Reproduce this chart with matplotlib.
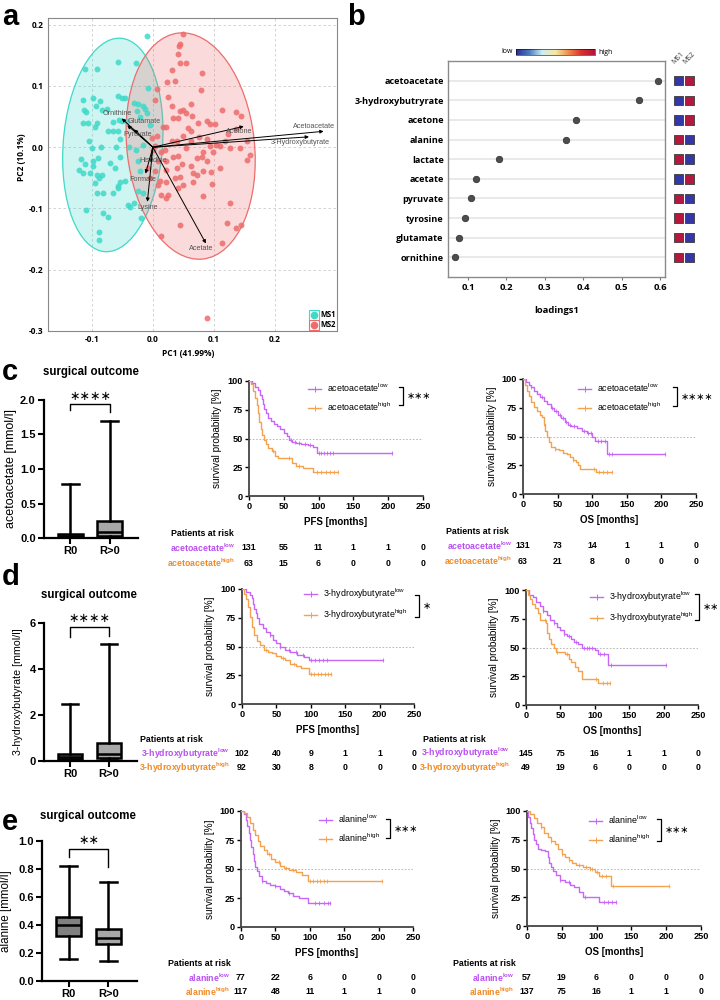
import numpy as np
import matplotlib
matplotlib.use('Agg')
import matplotlib.pyplot as plt
from matplotlib.patches import Ellipse
from matplotlib.lines import Line2D
from matplotlib.colors import LinearSegmentedColormap, ListedColormap, Normalize
from matplotlib.legend_handler import HandlerTuple
import matplotlib.cm as cm
import matplotlib.transforms as mtransforms

plt.rcParams['font.family'] = ['Liberation Sans', 'DejaVu Sans']
plt.rcParams['mathtext.fontset'] = 'custom'
plt.rcParams['mathtext.rm'] = 'Liberation Sans'
plt.rcParams['mathtext.bf'] = 'Liberation Sans:bold'
plt.rcParams['mathtext.it'] = 'Liberation Sans:italic'

# ---------------- panel a : PCA scores ----------------
ms1_x = [-0.111, -0.091, -0.057, -0.010, -0.028, -0.114, -0.098, -0.087, -0.113, -0.110,
         -0.093, -0.084, -0.115, -0.107, -0.091, -0.095, -0.073, -0.066, -0.057, -0.051,
         -0.046, -0.031, -0.024, -0.016, -0.026, -0.013, -0.021, -0.056, -0.065, -0.051,
         -0.105, -0.100, -0.085, -0.060, -0.054, -0.039, -0.027, -0.016, -0.118, -0.111,
         -0.098, -0.090, -0.070, -0.062, -0.054, -0.121, -0.115, -0.103, -0.098, -0.091,
         -0.084, -0.095, -0.088, -0.054, -0.046, -0.058, -0.065, -0.057, -0.091, -0.082,
         -0.109, -0.081, -0.073, -0.088, -0.089, -0.040, -0.031, -0.019, -0.024, -0.016,
         -0.024, -0.008, -0.076, -0.058, -0.042, -0.038, -0.010, -0.005, -0.021]
ms1_y = [0.127, 0.128, 0.139, 0.182, 0.137, 0.077, 0.081, 0.075, 0.060, 0.058,
         0.067, 0.060, 0.039, 0.039, 0.040, 0.033, 0.027, 0.026, 0.084, 0.080,
         0.081, 0.073, 0.070, 0.067, 0.059, 0.063, 0.050, 0.045, 0.041, 0.043,
         0.011, -0.001, 0.000, 0.000, 0.013, 0.000, -0.004, 0.004, -0.019, -0.027,
         -0.023, -0.017, -0.025, -0.034, -0.016, -0.037, -0.042, -0.042, -0.031, -0.045,
         -0.045, -0.058, -0.050, -0.056, -0.055, -0.064, -0.075, -0.067, -0.074, -0.075,
         -0.103, -0.108, -0.114, -0.138, -0.151, -0.095, -0.091, -0.116, -0.072, -0.075,
         -0.022, 0.096, 0.062, 0.026, 0.043, -0.097, 0.056, 0.037, -0.039]
ms2_x = [0.049, 0.044, 0.043, 0.041, 0.045, 0.054, 0.081, 0.032, 0.023, 0.036,
         0.079, 0.006, 0.003, 0.025, 0.031, 0.054, 0.063, 0.044, 0.050, 0.033,
         0.041, 0.017, 0.022, 0.057, 0.063, 0.074, 0.088, 0.093, 0.102, 0.113,
         0.137, 0.144, 0.137, 0.123, 0.154, 0.159, 0.155, 0.126, 0.118, 0.103,
         0.093, 0.088, 0.076, 0.063, 0.050, 0.039, 0.031, 0.020, 0.006, 0.003,
         0.013, 0.022, 0.033, 0.041, 0.047, 0.039, 0.022, 0.044, 0.036, 0.041,
         0.022, 0.011, 0.003, 0.009, 0.066, 0.072, 0.082, 0.096, 0.110, 0.097,
         0.082, 0.080, 0.072, 0.063, 0.082, 0.066, 0.050, 0.025, 0.014, 0.009,
         0.044, 0.122, 0.137, 0.144, 0.114, 0.126, 0.055, 0.110, 0.143, -0.002,
         0.001, -0.008, -0.005, 0.064, 0.088, 0.098, 0.088, 0.014, 0.021]
ms2_y = [0.185, 0.169, 0.166, 0.152, 0.138, 0.138, 0.122, 0.126, 0.107, 0.108,
         0.093, 0.095, 0.077, 0.082, 0.068, 0.056, 0.070, 0.059, 0.060, 0.048,
         0.048, 0.033, 0.033, 0.031, 0.026, 0.040, 0.043, 0.038, 0.038, 0.060,
         0.058, 0.051, 0.029, 0.021, 0.011, -0.012, -0.021, -0.001, 0.010, 0.004,
         0.002, 0.013, 0.016, 0.010, 0.018, 0.010, 0.010, -0.004, 0.018, 0.002,
         -0.008, -0.023, -0.016, -0.015, -0.028, -0.034, -0.037, -0.048, -0.050, -0.067,
         -0.056, -0.055, -0.039, -0.023, -0.042, -0.045, -0.038, -0.041, -0.034, -0.060,
         -0.007, -0.016, -0.018, -0.031, -0.079, -0.056, -0.061, -0.078, -0.078, -0.061,
         -0.127, -0.124, -0.132, -0.127, -0.156, -0.091, -0.001, 0.002, -0.001, 0.015,
         -0.004, -0.034, -0.050, 0.051, -0.023, -0.007, -0.279, -0.145, -0.083]

arrow_names = ['Ornithine', 'Glutamate', 'Pyruvate', 'Acetone', 'Acetoacetate',
               '3-Hydroxybutyrate', 'Histidine', 'Formate', 'Lysine', 'Acetate']
arrow_x = [-0.051, -0.042, -0.031, 0.149, 0.280, 0.256, -0.004, -0.012, -0.009, 0.087]
arrow_y = [0.047, 0.036, 0.029, 0.034, 0.026, 0.017, -0.025, -0.043, -0.089, -0.157]

# ---------------- panel b : loadings ----------------
metabolites = ['acetoacetate', '3-hydroxybutryrate', 'acetone', 'alanine', 'lactate',
               'acetate', 'pyruvate', 'tyrosine', 'glutamate', 'ornithine']
loadings1 = [0.595, 0.545, 0.380, 0.355, 0.182, 0.122, 0.108, 0.093, 0.077, 0.067]
ms1_level = [0, 0, 0, 1, 1, 0, 1, 1, 1, 1]
ms2_level = [1, 1, 1, 0, 0, 1, 0, 0, 0, 0]

# ---------------- box plots (min, q1, median, q3, max) ----------------
groups = ['R0', 'R>0']
c_box = [[0.0, 0.015, 0.035, 0.065, 0.78], [0.0, 0.03, 0.08, 0.25, 1.70]]
d_box = [[0.0, 0.08, 0.18, 0.32, 2.50], [0.03, 0.13, 0.30, 0.77, 5.10]]
e_box = [[0.16, 0.32, 0.40, 0.46, 0.82], [0.14, 0.265, 0.31, 0.375, 0.71]]

# ---------------- Kaplan-Meier curves (event times, survival %) ----------------
c_pfs_low_t = [0, 5, 9, 13, 16, 18, 20, 22, 25, 28, 32, 36, 40, 45, 50, 55, 58, 62, 68, 75, 85, 92, 97]
c_pfs_low_s = [100, 98, 95, 92, 88, 84, 80, 76, 72, 68, 65, 63, 61, 58, 55, 52, 49, 47, 46, 45, 44, 43, 37.5]
c_pfs_low_cens = [60, 66, 72, 80, 88, 100, 104, 108, 112, 116, 120, 205]
c_pfs_high_t = [0, 3, 6, 9, 11, 13, 15, 17, 19, 21, 24, 28, 33, 38, 42, 62, 67, 78, 92]
c_pfs_high_s = [100, 97, 91, 85, 79, 72, 64, 58, 53, 49, 45, 42, 39, 35, 33, 29, 26, 24, 21]
c_pfs_high_cens = [35, 58, 72, 98, 104, 110, 116, 122, 128]

c_os_low_t = [0, 4, 8, 12, 16, 20, 25, 30, 35, 40, 45, 50, 55, 60, 65, 70, 78, 85, 92, 100, 104, 121]
c_os_low_s = [100, 97, 95, 93, 90, 87, 84, 81, 78, 75, 72, 69, 66, 63, 60, 59, 57, 55, 53, 50, 46, 34.5]
c_os_low_cens = [12, 28, 42, 48, 54, 58, 62, 68, 74, 88, 94, 98, 108, 112, 118, 124, 128, 205]
c_os_high_t = [0, 3, 6, 9, 12, 16, 20, 24, 28, 30, 32, 35, 38, 41, 46, 52, 58, 63, 68, 72, 76, 80, 83, 105]
c_os_high_s = [100, 95, 90, 85, 80, 76, 72, 69, 67, 61, 55, 50, 45, 41, 39, 38, 36, 35, 32, 30, 28, 25, 22, 19]
c_os_high_cens = [30, 46, 72, 102, 110, 116, 122, 128]

d_pfs_low_t = [0, 6, 11, 14, 16, 18, 20, 22, 25, 30, 35, 40, 45, 50, 55, 62, 70, 80, 90, 98]
d_pfs_low_s = [100, 97, 95, 92, 87, 83, 79, 75, 70, 66, 63, 60, 56, 53, 50, 47, 45, 43, 41, 38]
d_pfs_low_cens = [40, 55, 68, 78, 88, 100, 106, 112, 118, 124, 205]
d_pfs_high_t = [0, 3, 6, 9, 12, 15, 18, 22, 26, 32, 38, 44, 50, 56, 62, 70, 78, 86, 97]
d_pfs_high_s = [100, 96, 91, 84, 76, 67, 60, 55, 51, 47, 45, 44, 42, 40, 38, 35, 33, 31, 26]
d_pfs_high_cens = [35, 60, 75, 100, 105, 110, 115, 120, 125, 129]

d_os_low_t = [0, 5, 10, 15, 20, 25, 30, 35, 40, 45, 50, 55, 60, 65, 70, 75, 82, 100, 104, 119]
d_os_low_s = [100, 96, 94, 90, 86, 82, 78, 74, 71, 68, 65, 62, 60, 57, 55, 53, 50, 48, 44.5, 35]
d_os_low_cens = [25, 40, 55, 62, 72, 84, 88, 92, 96, 108, 114, 124, 204]
d_os_high_t = [0, 3, 6, 9, 13, 17, 21, 29, 31, 34, 37, 40, 44, 56, 62, 66, 71, 76, 81, 104]
d_os_high_s = [100, 96, 92, 88, 84, 80, 74, 71, 63, 57, 53, 50, 46, 44, 40, 37, 33, 30, 23, 19]
d_os_high_cens = [28, 45, 60, 102, 112, 118, 122]

e_pfs_low_t = [0, 4, 7, 9, 11, 13, 15, 17, 19, 21, 23, 26, 30, 36, 42, 50, 56, 62, 68, 75, 84, 98]
e_pfs_low_s = [100, 97, 92, 87, 81, 75, 69, 63, 57, 52, 48, 44, 40, 38, 36, 35, 33, 31, 29, 27, 25, 20.5]
e_pfs_low_cens = [30, 50, 70, 108, 114, 120, 126, 129]
e_pfs_high_t = [0, 5, 9, 13, 17, 20, 24, 28, 33, 38, 44, 50, 56, 62, 70, 80, 88, 97]
e_pfs_high_s = [100, 98, 95, 90, 84, 79, 74, 70, 66, 63, 59, 56, 53, 51, 49, 47, 45, 39.5]
e_pfs_high_cens = [40, 55, 65, 75, 100, 105, 110, 115, 120, 125, 205]

e_os_low_t = [0, 2, 4, 6, 8, 10, 13, 16, 20, 26, 30, 32, 35, 38, 42, 47, 55, 62, 68, 74, 80, 104]
e_os_low_s = [100, 95, 90, 85, 80, 75, 71, 67, 66, 65, 60, 55, 51, 48, 44, 40, 38, 36, 34, 30, 25, 20.5]
e_os_low_cens = [48, 60, 84, 110, 116, 122, 128]
e_os_high_t = [0, 5, 10, 15, 20, 25, 30, 35, 40, 45, 50, 55, 60, 65, 70, 80, 90, 98, 103, 120]
e_os_high_s = [100, 97, 94, 90, 86, 81, 77, 74, 71, 67, 63, 60, 57, 55, 53, 51, 50, 47, 43.5, 34.5]
e_os_high_cens = [20, 35, 50, 60, 75, 85, 90, 94, 100, 108, 114, 124, 204]

# patients at risk at 0, 50, 100, 150, 200, 250 months
risk_times = [0, 50, 100, 150, 200, 250]
c_pfs_risk = [[131, 55, 11, 1, 1, 0], [63, 15, 6, 0, 0, 0]]
c_os_risk = [[131, 73, 14, 1, 1, 0], [63, 21, 8, 0, 0, 0]]
d_pfs_risk = [[102, 40, 9, 1, 1, 0], [92, 30, 8, 0, 0, 0]]
d_os_risk = [[145, 75, 16, 1, 1, 0], [49, 19, 6, 0, 0, 0]]
e_pfs_risk = [[77, 22, 6, 0, 0, 0], [117, 48, 11, 1, 1, 0]]
e_os_risk = [[57, 19, 6, 0, 0, 0], [137, 75, 16, 1, 1, 0]]

PURPLE = '#C766F7'
ORANGE = '#F5A24F'
PURPLE_T = '#B94EF0'
ORANGE_T = '#F08A26'

fig = plt.figure(figsize=(7.2, 10), dpi=100)


def px_axes(left, top, right, bottom):
    return fig.add_axes([left / 720, 1 - bottom / 1000, (right - left) / 720, (bottom - top) / 1000])


def fx(x):
    return x / 720


def fy(y):
    return 1 - y / 1000


# panel letters
for letter, x, y in [('a', 2, 17), ('b', 347, 17), ('c', 2, 372), ('d', 2, 577), ('e', 2, 822)]:
    fig.text(fx(x), fy(y), letter, fontsize=21, fontweight='bold', va='center', ha='left')

# ======================= a =======================
TEAL = '#3FD9C8'
SALMON = '#EE6C6C'
ax = px_axes(48, 18, 337, 331)


def ellipse_of(xs, ys, k=2.45):
    xs = np.asarray(xs)
    ys = np.asarray(ys)
    cov = np.cov(xs, ys)
    vals, vecs = np.linalg.eigh(cov)
    order = vals.argsort()[::-1]
    vals, vecs = vals[order], vecs[:, order]
    ang = np.degrees(np.arctan2(vecs[1, 0], vecs[0, 0]))
    return (xs.mean(), ys.mean()), 2 * k * np.sqrt(vals[0]), 2 * k * np.sqrt(vals[1]), ang


for xs, ys, col in [(ms1_x, ms1_y, TEAL), (ms2_x, ms2_y, SALMON)]:
    cen, w, h, ang = ellipse_of(xs, ys)
    ax.add_patch(Ellipse(cen, w, h, angle=ang, facecolor=col, alpha=0.25, edgecolor='none', zorder=1))
    ax.add_patch(Ellipse(cen, w, h, angle=ang, fill=False, edgecolor=col, lw=0.9, zorder=1))
ax.scatter(ms1_x, ms1_y, s=18, color=TEAL, alpha=0.85, lw=0, zorder=2)
ax.scatter(ms2_x, ms2_y, s=18, color=SALMON, alpha=0.85, lw=0, zorder=2)

label_off = [(-3, 3.4), (12, 2.4), (3, -3.6), (-3, -3.8), (-7, 3.2), (-6, -4),
             (2, 1.5), (-2, -4.4), (0, -3.8), (-3.5, -4)]
for name, x, y, off in zip(arrow_names, arrow_x, arrow_y, label_off):
    ax.annotate('', xy=(x, y), xytext=(0, 0),
                arrowprops=dict(arrowstyle='-|>', color='black', lw=0.7, mutation_scale=5,
                                shrinkA=0, shrinkB=0), zorder=3)
    ax.annotate(name, xy=(x, y), xytext=off, textcoords='offset points', ha='center', va='center',
                fontsize=5.2, color='#555555', zorder=4)

ax.set_xlim(-0.172, 0.302)
ax.set_ylim(-0.3, 0.211)
ax.set_xticks([-0.1, 0.0, 0.1, 0.2])
ax.set_xticklabels(['-0.1', '0.0', '0.1', '0.2'])
ax.set_yticks([-0.3, -0.2, -0.1, 0.0, 0.1, 0.2])
ax.set_yticklabels(['-0.3', '-0.2', '-0.1', '0.0', '0.1', '0.2'])
ax.grid(True, ls=(0, (3, 3)), color='#cccccc', lw=0.6)
ax.set_axisbelow(True)
ax.tick_params(length=0, labelsize=6, pad=3)
for lab in ax.get_xticklabels() + ax.get_yticklabels():
    lab.set_fontweight('bold')
    lab.set_family('Open Sans')
for sp in ax.spines.values():
    sp.set_color('#888888')
    sp.set_linewidth(0.8)
ax.set_xlabel('PC1 (41.99%)', fontsize=6, fontweight='bold', family='Open Sans')
ax.xaxis.set_label_coords(0.485, -0.058)
ax.set_ylabel('PC2 (10.1%)', fontsize=6, fontweight='bold', family='Open Sans')
ax.yaxis.set_label_coords(-0.075, 0.555)
h1 = (Line2D([], [], marker='s', ms=7, mfc='white', mec=TEAL, ls='none', mew=0.8),
      Line2D([], [], marker='o', ms=4.5, color=TEAL, ls='none'))
h2 = (Line2D([], [], marker='s', ms=7, mfc='white', mec=SALMON, ls='none', mew=0.8),
      Line2D([], [], marker='o', ms=4.5, color=SALMON, ls='none'))
ax.legend([h1, h2], ['MS1', 'MS2'], loc='lower right', frameon=False, handler_map={tuple: HandlerTuple(ndivide=1)},
          prop=dict(family='Open Sans', weight='bold', size=5.5), handlelength=1.0, handletextpad=0.3,
          labelspacing=0.15, borderaxespad=0.1, borderpad=0.1)

# ======================= b =======================
axb = px_axes(448, 61, 665, 277)
rows = np.arange(len(metabolites))
for r in rows:
    axb.axhline(r, color='#e3e3e3', lw=1.1, zorder=1)
axb.scatter(loadings1, rows, s=22, color='#4d4d4d', edgecolor='#2e2e2e', lw=0.5, zorder=3)
axb.set_xlim(0.048, 0.613)
axb.set_ylim(10, -1)
axb.set_yticks(rows)
axb.set_yticklabels(metabolites)
axb.set_xticks([0.1, 0.2, 0.3, 0.4, 0.5, 0.6])
axb.set_xticklabels(['0.1', '0.2', '0.3', '0.4', '0.5', '0.6'])
axb.tick_params(axis='y', length=0, pad=3, labelsize=6.6)
axb.tick_params(axis='x', length=2.5, width=0.8, color='#777777', pad=2, labelsize=6.8)
for lab in axb.get_xticklabels() + axb.get_yticklabels():
    lab.set_fontweight('bold')
    lab.set_family('Open Sans')
for sp in axb.spines.values():
    sp.set_color('#8a8a8a')
    sp.set_linewidth(1.0)
axb.set_xlabel('loadings1', fontsize=6.8, fontweight='bold', family='Open Sans')
axb.xaxis.set_label_coords(0.5, -0.135)

# MS1/MS2 squares
axh = px_axes(673.3, 61, 694.7, 277)
sq_cmap = ListedColormap(['#3437A6', '#B5183F'])
for col, levels in enumerate([ms1_level, ms2_level]):
    axh.scatter([col] * len(levels), rows, c=levels, cmap=sq_cmap, vmin=0, vmax=1, marker='s', s=46,
                edgecolors='#3a3a3a', linewidths=0.6)
axh.set_xlim(-0.5, 1.5)
axh.set_ylim(10, -1)
axh.axis('off')
for col, name in enumerate(['MS1', 'MS2']):
    axh.text(col - 0.25, -0.75, name, rotation=45, rotation_mode='anchor', ha='left', va='bottom',
             fontsize=5, color='#333333', family='Open Sans')

# colour bar
cax = px_axes(516, 49, 595, 55)
lh_cmap = LinearSegmentedColormap.from_list(
    'lowhigh', ['#2b2d8e', '#4a7bc0', '#cdeef2', '#f5e8a2', '#f08a4b', '#d7302a', '#b3123e'])
cb = fig.colorbar(cm.ScalarMappable(norm=Normalize(0, 1), cmap=lh_cmap), cax=cax, orientation='horizontal')
cb.set_ticks([])
cb.outline.set_linewidth(0.4)
fig.text(fx(513), fy(51.5), 'low', ha='right', va='center', fontsize=5, family='Open Sans')
fig.text(fx(598), fy(52.5), 'high', ha='left', va='center', fontsize=5, family='Open Sans')


# ======================= box plots =======================
def box_panel(rect, data, ylim, yticks, yticklabels, ylabel, ylsize, ylab_right, bracket, stars, star_y, title_x, title_y):
    ax = px_axes(*rect)
    stats = [dict(whislo=d[0], q1=d[1], med=d[2], q3=d[3], whishi=d[4], fliers=[]) for d in data]
    bp = ax.bxp(stats, positions=[1, 2], widths=0.62, patch_artist=True, showfliers=False, capwidths=0.42,
                boxprops=dict(lw=1.8, edgecolor='black'), whiskerprops=dict(lw=1.8, color='black'),
                capprops=dict(lw=1.8, color='black'), medianprops=dict(lw=1.8, color='black'))
    bp['boxes'][0].set_facecolor('#808080')
    bp['boxes'][1].set_facecolor('#a8a8a8')
    ax.set_xlim(0.33, 2.72)
    ax.set_ylim(*ylim)
    ax.set_yticks(yticks)
    ax.set_yticklabels(yticklabels)
    ax.set_xticks([1, 2])
    ax.set_xticklabels(groups)
    ax.spines['top'].set_visible(False)
    ax.spines['right'].set_visible(False)
    ax.spines['left'].set_linewidth(1.6)
    ax.spines['bottom'].set_linewidth(1.6)
    ax.tick_params(width=1.5, length=4, labelsize=8, pad=2)
    for lab in ax.get_xticklabels() + ax.get_yticklabels():
        lab.set_fontweight('bold')
    ax.set_ylabel(ylabel, fontsize=ylsize)
    ax.yaxis.set_label_coords((ylab_right - rect[0]) / (rect[2] - rect[0]), 0.5)
    yl, yt, yr = bracket
    ax.plot([1, 1, 2, 2], [yl, yt, yt, yr], color='black', lw=1.0, clip_on=False)
    ax.text(1.5, star_y, stars, ha='center', va='center', fontsize=9, family='DejaVu Sans', clip_on=False)
    fig.text(fx(title_x), fy(title_y), 'surgical outcome', ha='center', va='center', fontsize=8.3,
             fontweight='bold')
    return ax


box_panel((44, 400, 138, 538), c_box, (0, 2.0), [0, 0.5, 1.0, 1.5, 2.0], ['0.0', '0.5', '1.0', '1.5', '2.0'],
          'acetoacetate [mmol/l]', 9, 17, (1.86, 1.94, 1.83), '∗∗∗∗', 2.05, 91, 372)
box_panel((44, 623, 137, 761), d_box, (0, 6), [0, 2, 4, 6], ['0', '2', '4', '6'],
          '3-hydroxybutyrate [mmol/l]', 7.7, 23, (5.40, 5.83, 5.45), '∗∗∗∗', 6.2, 89, 595)
box_panel((42, 841, 137, 981), e_box, (0, 1.0), [0, 0.2, 0.4, 0.6, 0.8, 1.0],
          ['0.0', '0.2', '0.4', '0.6', '0.8', '1.0'],
          'alanine [mmol/l]', 8.4, 12, (0.886, 0.94, 0.815), '∗∗', 1.0, 88, 816)


# ======================= Kaplan-Meier =======================
def surv_at(t, s, times):
    idx = np.searchsorted(np.asarray(t), np.asarray(times), side='right') - 1
    return np.asarray(s)[idx]


def km_panel(rect, curves, name, xlabel, ylab_right, leg_x, leg_y, br_x, br_top, br_bot, stars,
             risk, risk_title, risk_right, risk_rows):
    ax = px_axes(*rect)
    ax.axhline(50, color='#b0b0b0', lw=0.6, ls=(0, (2, 2)), zorder=1)
    handles = []
    for t, s, cens, col in curves:
        end = max(cens)
        tt = list(t) + [end]
        ss = list(s) + [s[-1]]
        ax.step(tt, ss, where='post', color=col, lw=1.0, zorder=3)
        ax.plot(cens, surv_at(t, s, cens), ls='none', marker='|', ms=3, mew=0.6, color=col, zorder=3)
        handles.append(Line2D([], [], color=col, lw=1.0, marker='|', ms=4, mew=0.7))
    ax.set_xlim(0, 250)
    ax.set_ylim(0, 100)
    ax.set_xticks([0, 50, 100, 150, 200, 250])
    ax.set_yticks([0, 25, 50, 75, 100])
    ax.spines['top'].set_visible(False)
    ax.spines['right'].set_visible(False)
    ax.spines['left'].set_linewidth(1.3)
    ax.spines['bottom'].set_linewidth(1.3)
    ax.spines['left'].set_color('#444444')
    ax.spines['bottom'].set_color('#444444')
    ax.tick_params(width=1.0, length=3, labelsize=6.6, pad=1.5)
    for lab in ax.get_xticklabels() + ax.get_yticklabels():
        lab.set_fontweight('bold')
    ax.set_ylabel('survival probability [%]', fontsize=7.2)
    ax.yaxis.set_label_coords((ylab_right - rect[0]) / (rect[2] - rect[0]), 0.5)
    ax.set_xlabel(xlabel, fontsize=7, fontweight='bold')
    ax.xaxis.set_label_coords(0.5, -21.0 / (rect[3] - rect[1]))

    labels = [name + r'$^{\mathrm{low}}$', name + r'$^{\mathrm{high}}$']
    ax.legend(handles, labels, loc='center left', bbox_to_anchor=(fx(leg_x), fy(leg_y)),
              bbox_transform=fig.transFigure, frameon=False, borderpad=0, borderaxespad=0,
              handlelength=1.5, handletextpad=0.6, labelspacing=0.75, fontsize=6.4)
    fig.add_artist(Line2D([fx(br_x - 4), fx(br_x), fx(br_x), fx(br_x - 4)],
                          [fy(br_top), fy(br_top), fy(br_bot), fy(br_bot)], color='black', lw=0.9))
    fig.text(fx(br_x + 4), fy((br_top + br_bot) / 2), stars, fontsize=7, family='DejaVu Sans',
             ha='left', va='center')

    # patients at risk table
    fig.text(fx(risk_title[0]), fy(risk_title[1]), 'Patients at risk', fontsize=6.3, fontweight='bold',
             ha='left', va='center')
    trans = mtransforms.blended_transform_factory(ax.transData, fig.transFigure)
    rlabels = [name + r'$^{\mathbf{low}}$', name + r'$^{\mathbf{high}}$']
    for counts, lab, col, yrow in zip(risk, rlabels, [PURPLE_T, ORANGE_T], risk_rows):
        fig.text(fx(risk_right), fy(yrow), lab, color=col, fontsize=6.3, fontweight='bold',
                 ha='right', va='center')
        for tm, n in zip(risk_times, counts):
            ax.text(tm, fy(yrow), str(n), transform=trans, ha='center', va='center', fontsize=6.3,
                    fontweight='bold', clip_on=False)
    return ax


km_panel((249, 381, 423, 496),
         [(c_pfs_low_t, c_pfs_low_s, c_pfs_low_cens, PURPLE), (c_pfs_high_t, c_pfs_high_s, c_pfs_high_cens, ORANGE)],
         'acetoacetate', 'PFS [months]', 222, 308, 397.5, 403, 387, 405, '∗∗∗',
         c_pfs_risk, (171, 533), 235, (548, 563))
km_panel((523, 379, 696, 494),
         [(c_os_low_t, c_os_low_s, c_os_low_cens, PURPLE), (c_os_high_t, c_os_high_s, c_os_high_cens, ORANGE)],
         'acetoacetate', 'OS [months]', 497, 578, 397, 677, 387, 406, '∗∗∗∗',
         c_os_risk, (446, 531), 512, (546, 561))
km_panel((242, 589, 414, 704),
         [(d_pfs_low_t, d_pfs_low_s, d_pfs_low_cens, PURPLE), (d_pfs_high_t, d_pfs_high_s, d_pfs_high_cens, ORANGE)],
         '3-hydroxybutyrate', 'PFS [months]', 215, 304, 604.5, 419, 595, 617, '∗',
         d_pfs_risk, (140, 740), 230, (754, 768))
km_panel((526, 590, 698, 705),
         [(d_os_low_t, d_os_low_s, d_os_low_cens, PURPLE), (d_os_high_t, d_os_high_s, d_os_high_cens, ORANGE)],
         '3-hydroxybutyrate', 'OS [months]', 499, 590, 607, 699, 594, 620, '∗∗',
         d_os_risk, (423, 740), 510, (753, 768))
km_panel((241, 811, 413, 927),
         [(e_pfs_low_t, e_pfs_low_s, e_pfs_low_cens, PURPLE), (e_pfs_high_t, e_pfs_high_s, e_pfs_high_cens, ORANGE)],
         'alanine', 'PFS [months]', 215, 319, 828, 390, 819, 838, '∗∗∗',
         e_pfs_risk, (168, 963), 230, (978, 992))
km_panel((527, 811, 701, 926),
         [(e_os_low_t, e_os_low_s, e_os_low_cens, PURPLE), (e_os_high_t, e_os_high_s, e_os_high_cens, ORANGE)],
         'alanine', 'OS [months]', 501, 589, 829, 661, 819, 841, '∗∗∗',
         e_os_risk, (453, 963), 514, (978, 992))

fig.savefig('out.png', dpi=100)
